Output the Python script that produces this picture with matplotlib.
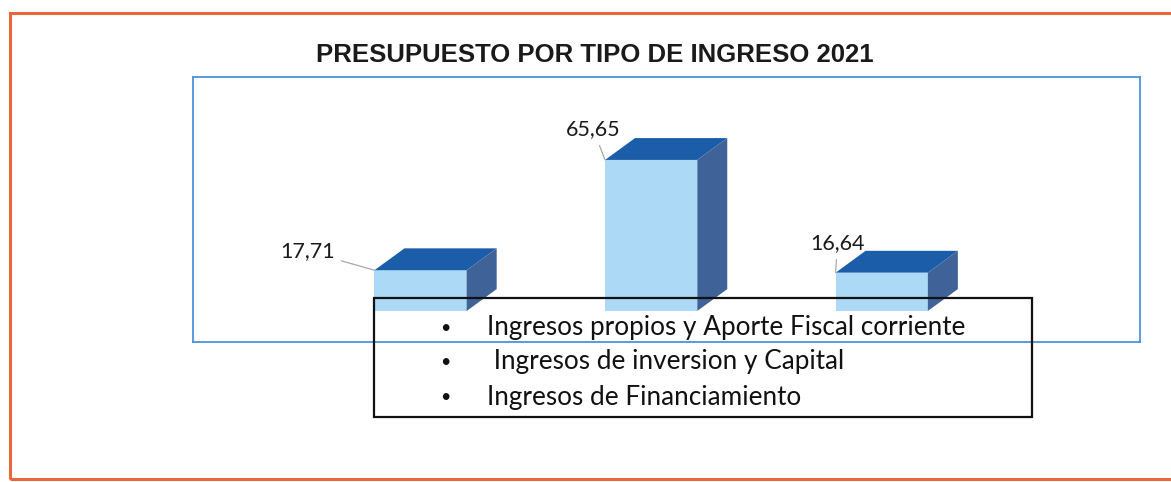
import matplotlib
matplotlib.use("Agg")
import matplotlib.pyplot as plt
from matplotlib.patches import Polygon, Rectangle

# ---- data ----
categories = ["Ingresos propios y Aporte Fiscal corriente",
              " Ingresos de inversion y Capital",
              "Ingresos de Financiamiento"]
values = [17.71, 65.65, 16.64]
value_labels = ["17,71", "65,65", "16,64"]
title = "PRESUPUESTO POR TIPO DE INGRESO 2021"

W, H = 1171, 482
fig = plt.figure(figsize=(W / 100, H / 100), dpi=100)
fig.patch.set_facecolor("white")

def fx(px):
    return px / W

def fy(py):
    return 1 - py / H

# outer orange frame
fig.patches.append(Rectangle((fx(10), fy(479)), fx(1180) - fx(10), fy(13) - fy(479),
                             transform=fig.transFigure, fill=False,
                             edgecolor="#e8673c", linewidth=2.2, zorder=1))

# title
fig.text(fx(595), fy(55), title, ha="center", va="center",
         fontsize=18.5, fontweight="bold", family="Liberation Sans", color="#1a1a1a")

# plot area
ax = fig.add_axes([fx(193), fy(342), fx(1140) - fx(193), fy(77) - fy(342)])
ax.set_xlim(-0.987, 3.12)
ax.set_ylim(-13.5, 101.7)
for s in ax.spines.values():
    s.set_edgecolor("#4b92dc")
    s.set_linewidth(1.3)
    s.set_zorder(10)
ax.set_xticks([])
ax.set_yticks([])

front_c = "#acdaf6"
top_c = "#1b5da8"
side_c = "#3f6299"
w = 0.40
dx, dy = 0.13, 9.5

x = list(range(len(values)))
ax.bar(x, values, width=w, color=front_c, edgecolor="none", zorder=3)
for xi, v in zip(x, values):
    l, r = xi - w / 2, xi + w / 2
    ax.add_patch(Polygon([(l, v), (r, v), (r + dx, v + dy), (l + dx, v + dy)],
                         closed=True, facecolor=top_c, edgecolor="none", zorder=4))
    ax.add_patch(Polygon([(r, 0), (r + dx, dy), (r + dx, v + dy), (r, v)],
                         closed=True, facecolor=side_c, edgecolor="none", zorder=4))

# value labels with leader lines
offsets = [(-40, 19, "right"), (-12, 31, "center"), (2, 30, "center")]
for xi, v, lab, (ox, oy, ha) in zip(x, values, value_labels, offsets):
    ax.annotate(lab, xy=(xi - w / 2, v), xytext=(ox, oy), textcoords="offset pixels",
                ha=ha, va="center", fontsize=15.5, family="Lato", color="#1a1a1a",
                arrowprops=dict(arrowstyle="-", color="#a8a8a8", lw=0.9,
                                shrinkA=3, shrinkB=0), zorder=6)

# legend-like box (transparent)
fig.patches.append(Rectangle((fx(374), fy(417)), fx(1032) - fx(374), fy(298) - fy(417),
                             transform=fig.transFigure, fill=False,
                             edgecolor="#111111", linewidth=1.6, zorder=20))
line_y = [328, 362, 397]
for cat, yy in zip(categories, line_y):
    fig.text(fx(445), fy(yy), "\u2022", ha="center", va="center", fontsize=13,
             family="Lato", color="#111111", zorder=21)
    fig.text(fx(487), fy(yy), cat, ha="left", va="center", fontsize=18.8,
             family="Lato", color="#111111", zorder=21)

fig.savefig("out.png", dpi=100)
